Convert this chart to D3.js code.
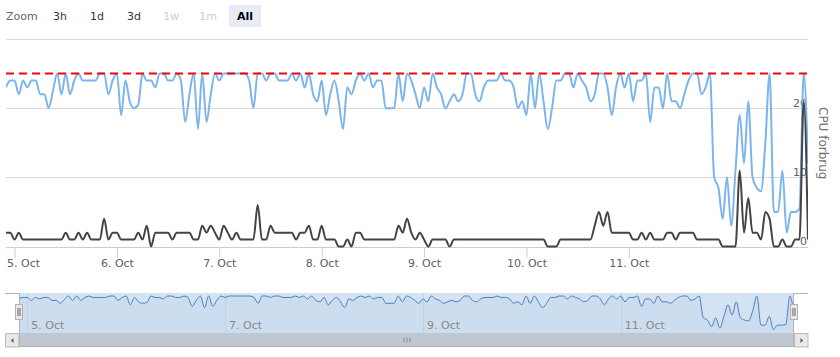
<!DOCTYPE html>
<html><head><meta charset="utf-8">
<script src="https://cdn.jsdelivr.net/npm/d3@7"></script>
<style>
html,body{margin:0;padding:0;background:#fff;}
svg{display:block;font-family:"DejaVu Sans",sans-serif;}
</style></head><body>
<svg id="c" width="840" height="357"></svg>
<script>
// ---------- data ----------
const rangeButtons = ["3h", "1d", "3d", "1w", "1m", "All"];
const disabledButtons = ["1w", "1m"];
const selectedButton = "All";
const zoomLabel = "Zoom";
const yTitle = "CPU forbrug";

// hourly samples starting 4 Oct 22:00
const startTime = Date.UTC(2014, 9, 4, 22);
const stepHours = 1;

// light blue series (peak CPU)
const cpuPeak = [
  23, 24,
  24, 22, 24, 23, 24, 24, 22, 22, 20, 22.5, 25, 22, 25, 22, 24, 25, 24, 24, 24, 24, 25, 25, 22, 24,
  25, 19, 24, 21, 20, 20.5, 25, 24, 24, 23, 25, 25, 24, 24, 25, 24, 18, 22, 25, 17, 25, 18, 22, 25,
  24, 25, 25, 25, 25, 25, 25, 24, 20, 25, 25, 24, 25, 25, 24, 24, 24, 25, 24, 25, 23, 25, 22, 21,
  24, 19, 22, 24, 21, 17, 23, 22, 24, 25, 24, 25, 23, 24, 24, 20, 20, 20, 25, 21, 25, 24, 22, 20,
  23, 21, 25, 23, 22, 20, 21, 22, 21, 22, 25, 25, 22, 21, 23, 24, 24, 24, 25, 24, 24, 23, 20, 21,
  19, 25, 20, 25, 21, 17, 20, 24, 24, 25, 25, 23, 25, 24, 23, 21, 22, 25, 25, 23, 19, 23, 25, 23,
  25, 21, 24, 24, 25, 18, 23, 23, 20, 25, 21, 21, 20, 22, 24, 25, 25, 22, 23, 25, 10, 8.5, 4, 10,
  3, 11, 19, 12, 21, 10, 8.5, 8, 15, 25, 5, 5, 11, 2, 5, 5, 5.5, 25, 12
];

// dark series (average CPU)
const cpuAvg = [
  2, 2,
  1, 2, 1, 1, 1, 1, 1, 1, 1, 1, 1, 1, 2, 1, 1, 2, 1, 2, 1, 1, 1, 4, 1, 2,
  2, 1, 1, 1, 1, 2, 1, 3, 0, 2, 2, 2, 2, 1, 2, 2, 2, 2, 1, 1, 3, 2, 3, 2,
  1, 3, 2, 1, 2, 1, 1, 1, 1, 6, 1, 1, 3, 2, 2, 2, 2, 2, 1, 2, 2, 3, 1, 1,
  3, 1, 1, 1, 0, 0, 1, 0, 2, 2, 1, 1, 1, 1, 1, 1, 1, 1, 3, 2, 4, 2, 1, 2,
  1, 0, 1, 1, 1, 1, 0, 1, 1, 1, 1, 1, 1, 1, 1, 1, 1, 1, 1, 1, 1, 1, 1, 1,
  1, 1, 1, 1, 1, 0, 0, 0, 1, 1, 1, 1, 1, 1, 1, 1, 3, 5, 3, 5, 2, 2, 2, 2,
  2, 1, 1, 2, 1, 2, 1, 1, 1, 2, 2, 1, 2, 2, 2, 2, 1, 1, 1, 1, 1, 1, 0, 0,
  0, 0, 11, 2, 7, 2, 2, 1, 5, 4, 0, 0, 1, 0, 0, 1, 1, 21, 1
];

const thresholdValue = 25;
const yGridValues = [0, 10, 20, 30];
const yLabelValues = [0, 10, 20];
const xTickDays = ["2014-10-05", "2014-10-06", "2014-10-07", "2014-10-08", "2014-10-09", "2014-10-10", "2014-10-11"];
const navTickDays = ["2014-10-05", "2014-10-07", "2014-10-09", "2014-10-11"];

// ---------- layout ----------
const svg = d3.select("#c");
const plot = {left: 6, right: 808, top: 39, bottom: 246.5};
const nav = {left: 19, right: 794, top: 293, bottom: 333, sbBottom: 347, outerLeft: 5, outerRight: 808};

const times = cpuPeak.map((_, i) => new Date(startTime + i * stepHours * 3600e3));
const fmt = d3.utcFormat("%-d. %b");
const parseDay = d => new Date(d + "T00:00:00Z");

const x = d3.scaleUtc().domain([times[0], times[times.length - 1]]).range([plot.left, plot.right]);
const y = d3.scaleLinear().domain([0, 30]).range([plot.bottom, plot.top]);

// ---------- range selector ----------
svg.append("text").attr("x", 6).attr("y", 20).attr("font-size", 11).attr("fill", "#666").text(zoomLabel);
const btn = svg.append("g");
rangeButtons.forEach((b, i) => {
  const bx = 44 + i * 37;
  const g = btn.append("g");
  if (b === selectedButton) {
    g.append("rect").attr("x", bx).attr("y", 5).attr("width", 32).attr("height", 22).attr("fill", "#e6ebf5");
  }
  g.append("text").attr("x", bx + 16).attr("y", 20).attr("text-anchor", "middle").attr("font-size", 11)
    .attr("font-weight", b === selectedButton ? "bold" : "normal")
    .attr("fill", disabledButtons.includes(b) ? "#cccccc" : (b === selectedButton ? "#000" : "#333"))
    .text(b);
});

// ---------- clip ----------
svg.append("defs").append("clipPath").attr("id", "clip").append("rect")
  .attr("x", plot.left).attr("y", plot.top - 5).attr("width", plot.right - plot.left).attr("height", plot.bottom - plot.top + 10);

// ---------- gridlines ----------
svg.append("g").selectAll("line").data(yGridValues).join("line")
  .attr("x1", plot.left).attr("x2", plot.right)
  .attr("y1", d => Math.round(y(d)) + 0.5).attr("y2", d => Math.round(y(d)) + 0.5)
  .attr("stroke", "#d8d8d8").attr("stroke-width", 1);

// y labels (inside, right aligned)
svg.append("g").selectAll("text").data(yLabelValues).join("text")
  .attr("x", plot.right - 1).attr("y", d => y(d) - 1.5)
  .attr("text-anchor", "end").attr("font-size", 11).attr("fill", "#606060")
  .text(d => d);

// y title
svg.append("text").attr("transform", `translate(818.5,${(plot.top + plot.bottom) / 2 + 0.5}) rotate(90)`)
  .attr("text-anchor", "middle").attr("font-size", 12).attr("fill", "#707070").text(yTitle);

// ---------- x axis ----------
const xAxis = d3.axisBottom(x).tickValues(xTickDays.map(parseDay)).tickFormat(fmt).tickSize(10).tickSizeOuter(0);
const gx = svg.append("g").attr("transform", `translate(0,${Math.round(plot.bottom) + 0.5})`).call(xAxis);
gx.select(".domain").attr("stroke", "#C0D0E0").attr("d", `M${plot.left},0H${plot.right}`);
gx.selectAll(".tick line").attr("stroke", "#C0D0E0");
gx.selectAll(".tick text").attr("font-size", 11).attr("fill", "#606060").attr("font-family", "DejaVu Sans")
  .attr("dy", null).attr("y", 19.5);
gx.selectAll(".tick text").each(function () {
  const bb = this.getBBox();
  const tr = d3.select(this.parentNode).attr("transform");
  const tx = +tr.match(/translate\(([-\d.]+)/)[1];
  if (tx - bb.width / 2 < plot.left + 1) {
    d3.select(this).attr("text-anchor", "start").attr("x", plot.left + 1 - tx);
  }
});

// ---------- series ----------
const line = d3.line().x((d, i) => x(times[i])).y(d => y(d)).curve(d3.curveMonotoneX);
const series = svg.append("g").attr("clip-path", "url(#clip)");
series.append("path").attr("d", line(cpuPeak)).attr("fill", "none").attr("stroke", "#7cb5ec").attr("stroke-width", 2).attr("stroke-linejoin", "round");
series.append("path").attr("d", line(cpuAvg)).attr("fill", "none").attr("stroke", "#434348").attr("stroke-width", 2).attr("stroke-linejoin", "round");

// threshold plot line
svg.append("line").attr("x1", plot.left).attr("x2", plot.right)
  .attr("y1", y(thresholdValue)).attr("y2", y(thresholdValue))
  .attr("stroke", "#ff0000").attr("stroke-width", 2).attr("stroke-dasharray", "8,5");

// ---------- navigator ----------
const nx = d3.scaleUtc().domain(x.domain()).range([nav.left, nav.right]);
const ny = d3.scaleLinear().domain([d3.min(cpuPeak), d3.max(cpuPeak)]).range([329.5, 296]);

// mask (whole range selected)
svg.append("rect").attr("x", nav.left).attr("y", nav.top).attr("width", nav.right - nav.left).attr("height", nav.bottom - nav.top)
  .attr("fill", "#d3e3f4");

// nav grid lines
svg.append("g").selectAll("line").data(navTickDays.map(parseDay)).join("line")
  .attr("x1", d => Math.round(nx(d)) + 0.5).attr("x2", d => Math.round(nx(d)) + 0.5)
  .attr("y1", nav.top).attr("y2", nav.bottom).attr("stroke", "#c6d6e8").attr("stroke-width", 1);

const navArea = d3.area().x((d, i) => nx(times[i])).y0(nav.bottom).y1(d => ny(d)).curve(d3.curveMonotoneX);
const navLine = d3.line().x((d, i) => nx(times[i])).y(d => ny(d)).curve(d3.curveMonotoneX);
svg.append("path").attr("d", navArea(cpuPeak)).attr("fill", "rgba(69,114,167,0.05)");
svg.append("path").attr("d", navLine(cpuPeak)).attr("fill", "none").attr("stroke", "#4a7fc0").attr("stroke-width", 1);

// nav labels
svg.append("g").selectAll("text").data(navTickDays.map(parseDay)).join("text")
  .attr("x", d => nx(d) + 4).attr("y", 329).attr("font-size", 11).attr("fill", "#888").text(fmt);

// scrollbar
svg.append("rect").attr("x", nav.outerLeft).attr("y", nav.bottom).attr("width", nav.outerRight - nav.outerLeft).attr("height", nav.sbBottom - nav.bottom)
  .attr("fill", "#eeeeee");
svg.append("rect").attr("x", nav.left).attr("y", nav.bottom).attr("width", nav.right - nav.left).attr("height", nav.sbBottom - nav.bottom)
  .attr("fill", "#bfc8d1");
const gripX = (nav.left + nav.right) / 2;
[-3, 0, 3].forEach(o => {
  svg.append("line").attr("x1", gripX + o + 0.5).attr("x2", gripX + o + 0.5).attr("y1", 337.5).attr("y2", 342.5)
    .attr("stroke", "#8a8a8a").attr("stroke-width", 1);
});
// buttons
[[nav.outerLeft, "left"], [nav.right, "right"]].forEach(([bx, dir]) => {
  svg.append("rect").attr("x", bx + 0.5).attr("y", nav.bottom + 0.5).attr("width", 13.5).attr("height", 13.5)
    .attr("fill", "#ebe7e8").attr("stroke", "#bbbbbb").attr("stroke-width", 1);
  const cx = bx + 7.5, cy = nav.bottom + 7.5;
  const p = dir === "left" ? `M${cx + 1},${cy - 2.5}L${cx - 1.5},${cy}L${cx + 1},${cy + 2.5}Z` : `M${cx - 1},${cy - 2.5}L${cx + 1.5},${cy}L${cx - 1},${cy + 2.5}Z`;
  svg.append("path").attr("d", p).attr("fill", "#555");
});

// outline
svg.append("path")
  .attr("d", `M${nav.outerLeft},${nav.top + 0.5}H${nav.left + 0.5}V${nav.sbBottom - 0.5}H${nav.right - 0.5}V${nav.top + 0.5}H${nav.outerRight}`)
  .attr("fill", "none").attr("stroke", "#b2b1b6").attr("stroke-width", 1);

// handles
[nav.left, nav.right].forEach(hx => {
  const rx = Math.round(hx) - 4;
  svg.append("rect").attr("x", rx + 0.5).attr("y", 304.5).attr("width", 7).attr("height", 15)
    .attr("fill", "#ebe7e8").attr("stroke", "#b2b1b6").attr("stroke-width", 1);
  [2.5, 4.5].forEach(o => {
    svg.append("line").attr("x1", rx + o + 0.5).attr("x2", rx + o + 0.5).attr("y1", 308).attr("y2", 316)
      .attr("stroke", "#666").attr("stroke-width", 1);
  });
});
</script>
</body></html>
